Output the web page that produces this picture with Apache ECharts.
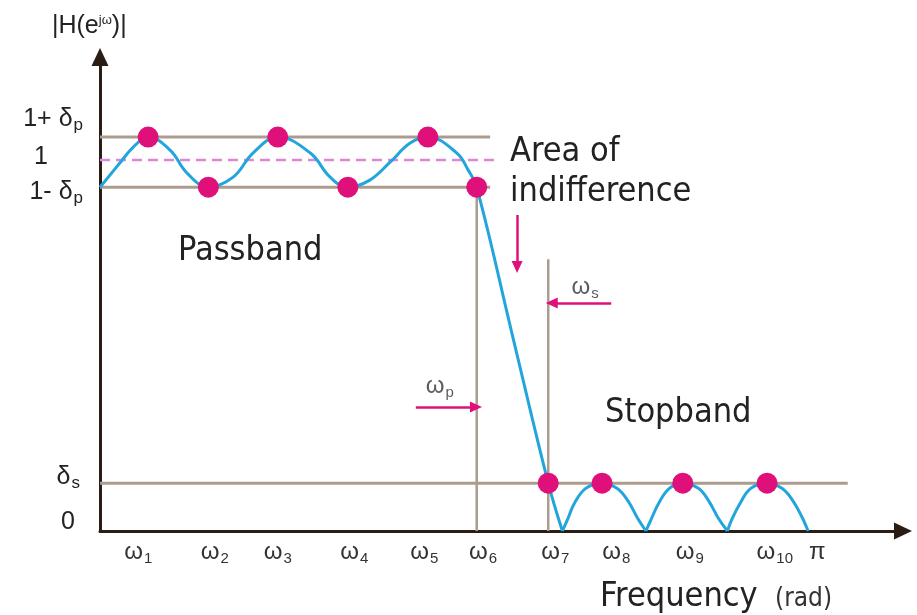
<!DOCTYPE html>
<html><head><meta charset="utf-8">
<script src="https://cdn.jsdelivr.net/npm/echarts@6/dist/echarts.min.js"></script>
<style>html,body{margin:0;padding:0;background:#fff}#c{width:917px;height:615px}</style>
</head><body><div id="c"></div>
<script>
// ---- magnitude levels |H(e^jw)| ----
const levelOnePlusDp = 1.062;
const levelOne = 1.0;
const levelOneMinusDp = 0.927;
const levelDs = 0.129;

// ---- frequencies are expressed as a fraction of pi ----
const omegaFreq = [0.068, 0.153, 0.251, 0.350, 0.463, 0.532, 0.633, 0.709, 0.823, 0.942];
const omegaMag  = [1.062, 0.927, 1.062, 0.927, 1.062, 0.927, 0.129, 0.129, 0.129, 0.129];
const omegaP = 0.532;
const omegaS = 0.633;
const omegaSTop = 0.733;

// x tick labels
const xTickPos   = [0.054, 0.162, 0.251, 0.359, 0.458, 0.541, 0.643, 0.729, 0.833, 0.953, 1.013];
const xTickBase  = ['ω','ω','ω','ω','ω','ω','ω','ω','ω','ω','π'];
const xTickSub   = ['1','2','3','4','5','6','7','8','9','10',''];

// y tick labels
const yTickPos  = [1.108, 1.005, 0.911, 0.143, 0.022];
const yTickBase = ['1+ δ', '1', '1- δ', 'δ', '0'];
const yTickSub  = ['p', '', 'p', 's', ''];
const yTickPad  = [0, 35, 0, 3, 8];

// response curve: passband ripple + transition
const passX = [0, 0.028, 0.047, 0.068, 0.099, 0.123, 0.153, 0.188, 0.216, 0.251, 0.297, 0.325, 0.350, 0.381, 0.410, 0.438, 0.463, 0.504, 0.520, 0.532, 0.583, 0.633, 0.653];
const passY = [0.927, 0.992, 1.035, 1.062, 1.027, 0.965, 0.927, 0.954, 1.019, 1.062, 1.019, 0.954, 0.927, 0.946, 0.995, 1.046, 1.062, 1.019, 0.973, 0.927, 0.523, 0.129, 0];
// stopband lobes
const lobe1X = [0.653, 0.660, 0.670, 0.686, 0.709, 0.730, 0.746, 0.759, 0.771];
const lobe2X = [0.771, 0.778, 0.789, 0.804, 0.823, 0.845, 0.860, 0.873, 0.886];
const lobe3X = [0.886, 0.892, 0.904, 0.919, 0.942, 0.963, 0.979, 0.992, 1.0];
const lobeY  = [0, 0.030, 0.075, 0.115, 0.129, 0.115, 0.080, 0.035, 0];

// reference line extents
const passLinesEnd = 0.551;
const oneLineEnd = 0.558;
const dsLineEnd = 1.056;

// annotation arrows [[x1,y1],[x2,y2]]
const arrowIndiff = [[0.589, 0.852], [0.589, 0.712]];
const arrowWs = [[0.722, 0.615], [0.638, 0.615]];
const arrowWp = [[0.446, 0.334], [0.531, 0.334]];
const labelWp = [0.480, 0.388];
const labelWs = [0.685, 0.655];

const xMax = 1.134, yMax = 1.278;

const BLUE = '#22a5dc', PINK = '#e0107a', TAN = '#ad9c8e', AXIS = '#2b1d14', DASH = '#e088d8';
const TXT = '#222';
const SANS = 'Liberation Sans, Arial, sans-serif';
const COND = '"DejaVu Sans Condensed", "DejaVu Sans", sans-serif';

const zip = (xs, ys) => xs.map((x, i) => [x, ys[i]]);
const seg = (pts, color, width, type, z) => ({
  type: 'line', data: pts, symbol: 'none', silent: true, z: z || 2,
  lineStyle: { color, width, type: type || 'solid' }, animation: false
});

const chart = echarts.init(document.getElementById('c'), null, { renderer: 'canvas' });

const curveStyle = (pts) => ({
  type: 'line', data: pts, symbol: 'none', smooth: 0.4, silent: true, z: 4, animation: false,
  lineStyle: { color: BLUE, width: 3 }
});

const arrowLine = (pair) => [{ coord: pair[0] }, { coord: pair[1] }];

chart.setOption({
  animation: false,
  backgroundColor: '#fff',
  grid: { left: 100, right: 14, top: 57, bottom: 84 },
  xAxis: {
    type: 'value', min: 0, max: xMax,
    axisLine: { show: true, symbol: ['none', 'triangle'], symbolSize: [17, 18], lineStyle: { color: AXIS, width: 3 } },
    axisTick: { show: false }, splitLine: { show: false },
    axisLabel: {
      customValues: xTickPos, margin: 9,
      formatter: (v) => {
        const i = xTickPos.findIndex(p => Math.abs(p - v) < 1e-6);
        if (i < 0) return '';
        return xTickSub[i] ? '{w|' + xTickBase[i] + '}{s|' + xTickSub[i] + '}' : '{w|' + xTickBase[i] + '}';
      },
      rich: {
        w: { fontSize: 24, fontFamily: SANS, color: '#333', lineHeight: 26, verticalAlign: 'top' },
        s: { fontSize: 15, fontFamily: SANS, color: '#333', lineHeight: 15, padding: [14, 0, 0, 1], verticalAlign: 'bottom' }
      }
    }
  },
  yAxis: {
    type: 'value', min: 0, max: yMax,
    axisLine: { show: true, symbol: ['none', 'triangle'], symbolSize: [17, 18], lineStyle: { color: AXIS, width: 3 } },
    axisTick: { show: false }, splitLine: { show: false },
    axisLabel: {
      customValues: yTickPos, margin: 17,
      formatter: (v) => {
        const i = yTickPos.findIndex(p => Math.abs(p - v) < 1e-6);
        if (i < 0) return '';
        const pad = 'p' + yTickPad[i];
        return yTickSub[i]
          ? '{b|' + yTickBase[i] + '}{s|' + yTickSub[i] + '}{' + pad + '|}'
          : '{b|' + yTickBase[i] + '}{' + pad + '|}';
      },
      rich: {
        b: { fontSize: 25, fontFamily: SANS, color: TXT, lineHeight: 27, verticalAlign: 'top' },
        s: { fontSize: 17, fontFamily: SANS, color: TXT, lineHeight: 17, padding: [13, 0, 0, 1], verticalAlign: 'bottom' },
        p0: { width: 0 }, p3: { width: 3 }, p8: { width: 8 }, p35: { width: 35 }
      }
    }
  },
  graphic: [
    { type: 'text', left: 52, top: 12, style: { text: '{a||H(e}{b|jω}{a|)|}', rich: {
      a: { fontSize: 25, fontFamily: SANS, fill: TXT, lineHeight: 27, verticalAlign: 'bottom' },
      b: { fontSize: 13, fontFamily: SANS, fill: TXT, lineHeight: 13, padding: [2, 0, 0, 0], verticalAlign: 'top' } } } },
    { type: 'text', x: 178, y: 251, style: { text: 'Passband', font: '34px ' + COND, fill: TXT, textVerticalAlign: 'middle' } },
    { type: 'text', x: 510, y: 152, style: { text: 'Area of', font: '34px ' + COND, fill: TXT, textVerticalAlign: 'middle' } },
    { type: 'text', x: 510, y: 192, style: { text: 'indifference', font: '34px ' + COND, fill: TXT, textVerticalAlign: 'middle' } },
    { type: 'text', x: 605, y: 413, style: { text: 'Stopband', font: '34px ' + COND, fill: TXT, textVerticalAlign: 'middle' } },
    { type: 'text', x: 600, y: 597, style: { text: 'Frequency', font: '34px ' + COND, fill: TXT, textVerticalAlign: 'middle' } },
    { type: 'text', x: 775, y: 599, style: { text: '(rad)', font: '26px ' + COND, fill: '#333', textVerticalAlign: 'middle' } }
  ],
  series: [
    seg([[0, levelOnePlusDp], [passLinesEnd, levelOnePlusDp]], TAN, 3),
    seg([[0, levelOneMinusDp], [passLinesEnd, levelOneMinusDp]], TAN, 3),
    seg([[0, levelDs], [dsLineEnd, levelDs]], TAN, 3),
    seg([[omegaP, 0], [omegaP, levelOneMinusDp]], TAN, 2.5),
    seg([[omegaS, 0], [omegaS, omegaSTop]], TAN, 2.5),
    Object.assign(seg([[0, levelOne], [oneLineEnd, levelOne]], DASH, 2.5), { lineStyle: { color: DASH, width: 2.5, type: [10, 6] } }),
    curveStyle(zip(passX, passY)),
    curveStyle(zip(lobe1X, lobeY)),
    curveStyle(zip(lobe2X, lobeY)),
    curveStyle(zip(lobe3X, lobeY)),
    {
      type: 'scatter', data: zip(omegaFreq, omegaMag), symbolSize: 21, z: 6, silent: true, animation: false,
      itemStyle: { color: PINK, opacity: 1 }
    },
    {
      type: 'scatter', data: [labelWp, labelWs], symbolSize: 0, z: 6, silent: true, animation: false,
      label: {
        show: true, position: 'inside',
        formatter: (p) => p.dataIndex === 0 ? '{w|ω}{s|p}' : '{w|ω}{s|s}',
        rich: {
          w: { fontSize: 24, fontFamily: SANS, color: '#333', lineHeight: 26, verticalAlign: 'top' },
          s: { fontSize: 15, fontFamily: SANS, color: '#333', lineHeight: 15, padding: [14, 0, 0, 1], verticalAlign: 'bottom' }
        }
      },
      markLine: {
        silent: true, animation: false, symbol: ['none', 'triangle'], symbolSize: [11, 12],
        lineStyle: { color: PINK, width: 2.5, type: 'solid' }, label: { show: false },
        data: [arrowLine(arrowIndiff), arrowLine(arrowWs), arrowLine(arrowWp)]
      }
    }
  ]
});
</script></body></html>
